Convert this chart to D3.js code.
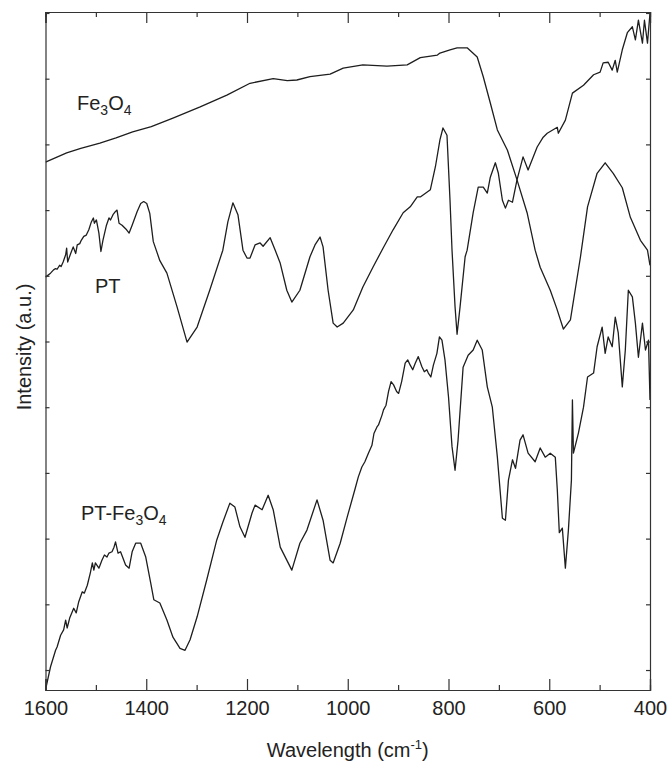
<!DOCTYPE html>
<html>
<head>
  <style>
    body, html { margin: 0; padding: 0; background: #fff; }
    svg text { font-family: "Liberation Sans", Arial, sans-serif; fill: #222; }
  </style>
</head>
<body>
  <svg id="svg" width="668" height="761"></svg>
  <script src="https://d3js.org/d3.v7.min.js"></script>
  <script>
    // wavenumbers (cm-1) and intensities (a.u.)
    const fe3o4Wn = [1600, 1558, 1530, 1492, 1460, 1427, 1390, 1347, 1293, 1240, 1194, 1148, 1120, 1101, 1075, 1035, 1009, 970, 922, 882, 856, 822, 817, 797, 783, 763, 743, 731, 717, 703, 683, 664, 644, 628, 618, 598, 585, 572, 558, 538, 524, 505, 489, 473, 455, 439, 419, 405, 400]
    const fe3o4Int = [77.3, 78.7, 79.4, 80.2, 81.0, 81.9, 82.7, 84.0, 85.7, 87.5, 89.3, 90.0, 89.7, 89.8, 90.3, 90.7, 91.6, 92.1, 91.9, 92.1, 93.2, 93.6, 93.9, 94.4, 94.7, 94.7, 93.3, 90.3, 86.3, 82.2, 79.1, 74.6, 69.6, 63.9, 61.3, 57.8, 55.0, 51.9, 53.3, 62.9, 70.5, 75.6, 77.2, 75.6, 73.4, 68.9, 65.4, 63.9, 61.6]

    const ptWn = [1600, 1590, 1584, 1580, 1577, 1572, 1569, 1565, 1560, 1558, 1556, 1550, 1545, 1540, 1537, 1532, 1529, 1524, 1519, 1514, 1509, 1505, 1503, 1499, 1494, 1490, 1486, 1479, 1474, 1471, 1466, 1461, 1458, 1454, 1448, 1439, 1434, 1428, 1418, 1411, 1405, 1399, 1393, 1386,
      1373, 1359, 1339, 1319, 1299, 1274, 1248, 1238, 1228, 1218, 1208, 1200, 1194, 1184, 1174, 1168, 1154, 1144, 1134, 1121, 1111, 1095, 1075, 1065, 1055, 1049, 1039, 1029, 1021, 1009, 989, 970, 950, 930, 910, 890, 876, 862, 856, 836, 826, 817, 811, 803, 797, 793, 787, 783, 777, 767, 763, 751, 741, 731, 723, 717, 707, 701, 693, 687, 681, 673, 664, 652, 642, 624, 612, 604, 584, 582, 568, 554, 532, 512, 499, 493, 483, 475, 469, 465, 455, 445, 435, 429, 423, 415, 411, 405, 400]
    const ptInt = [59.8, 60.4, 60.9, 61.1, 61.0, 61.6, 61.4, 62.1, 63.2, 64.2, 62.1, 63.4, 64.4, 63.4, 64.7, 64.9, 65.4, 66.0, 66.2, 67.0, 68.2, 68.8, 68.0, 68.5, 66.5, 63.7, 65.4, 67.7, 68.8, 68.5, 69.3, 69.8, 70.0, 68.0, 67.7, 67.0, 66.5, 67.7, 69.8, 71.0, 71.3, 71.0, 69.5, 65.2,
      62.3, 60.4, 55.3, 49.9, 52.2, 57.8, 63.9, 68.2, 71.1, 69.3, 63.9, 62.7, 62.7, 64.7, 65.0, 64.5, 65.8, 63.9, 61.9, 57.8, 56.0, 57.8, 62.9, 64.7, 65.9, 64.4, 57.8, 52.8, 52.2, 52.8, 54.8, 58.3, 61.3, 64.2, 67.0, 69.6, 70.5, 72.0, 72.0, 73.1, 76.6, 80.7, 82.5, 81.4, 71.5, 63.9, 55.3, 51.1, 55.3, 62.9, 63.9, 69.6, 73.5, 73.5, 72.6, 75.0, 77.2, 75.6, 71.5, 70.3, 71.5, 71.2, 74.6, 78.1, 76.1, 79.6, 81.1, 81.7, 82.6, 81.7, 83.7, 87.8, 89.0, 90.6, 91.0, 92.4, 92.5, 91.3, 92.8, 91.0, 94.4, 97.0, 97.9, 95.9, 98.9, 95.4, 98.9, 95.4, 100.0]

    const ptFeWn = [1600, 1590, 1580, 1577, 1570, 1564, 1560, 1557, 1552, 1544, 1539, 1534, 1527, 1523, 1517, 1511, 1507, 1504, 1501, 1494, 1488, 1483, 1478, 1474, 1468, 1464, 1461, 1456, 1451, 1441, 1434, 1428, 1421, 1411, 1401, 1391, 1385,
      1373, 1359, 1347, 1333, 1323, 1313, 1299, 1280, 1260, 1248, 1234, 1224, 1214, 1204, 1190, 1184, 1170, 1158, 1148, 1134, 1111, 1095, 1081, 1061, 1049, 1035, 1029, 1015, 1001,
      985, 979, 972, 966, 959, 952, 948, 942, 939, 932, 929, 924, 919, 914, 909, 903, 899, 893, 886, 881, 876, 871, 866, 860, 853, 848, 843, 840, 835, 830, 823, 818, 813, 807, 800, 793, 787,
      781, 771, 761, 751, 743, 733, 723, 713, 703, 693, 687, 681, 673, 667, 658, 652, 642, 628, 618, 608, 598, 588, 584, 580, 574, 568, 562, 556, 554, 552, 542, 532, 524, 512, 505, 495, 489, 483, 475, 469, 463, 455, 449, 443, 435, 429, 423, 415, 409, 403, 400]
    const ptFeInt = [-3.0, 0.5, 3.0, 3.5, 5.3, 6.1, 7.6, 6.4, 7.9, 9.4, 8.7, 10.4, 11.9, 11.7, 12.9, 14.8, 16.3, 15.2, 16.3, 15.5, 16.7, 17.5, 17.2, 17.8, 18.0, 18.7, 19.5, 17.8, 18.0, 16.0, 15.5, 18.0, 19.3, 19.3, 17.2, 13.2, 10.7,
      10.2, 7.6, 5.0, 3.3, 3.0, 4.6, 8.1, 13.7, 19.8, 22.5, 25.4, 24.8, 21.8, 20.2, 23.9, 25.1, 24.4, 26.6, 24.4, 18.7, 15.2, 19.3, 21.3, 25.9, 22.8, 16.7, 16.3, 19.3, 23.3,
      27.7, 29.4, 30.9, 31.7, 33.0, 34.2, 36.0, 37.0, 37.3, 38.8, 39.6, 40.3, 42.4, 43.9, 43.4, 42.4, 42.1, 43.9, 46.7, 47.2, 46.4, 45.7, 46.7, 47.7, 46.2, 45.4, 45.7, 45.2, 44.6, 46.4, 48.2, 50.7, 50.2, 47.2, 41.6, 34.0, 30.4,
      35.0, 46.1, 47.9, 48.7, 50.2, 48.7, 43.1, 40.0, 32.4, 23.1, 22.8, 28.9, 32.0, 30.7, 35.0, 35.8, 33.0, 31.7, 33.8, 32.4, 33.0, 32.4, 27.4, 20.9, 21.6, 15.5, 21.3, 28.9, 41.1, 33.0, 36.1, 40.0, 44.6, 45.2, 49.2, 52.2, 48.2, 50.7, 49.2, 53.7, 51.3, 43.1, 48.7, 57.8, 56.8, 52.8, 47.6, 52.8, 48.7, 50.2, 41.1]

    const xMajorTicks = [1600, 1400, 1200, 1000, 800, 600, 400]
    const xMinorTicks = [1500, 1300, 1100, 900, 700, 500]
    const yTicks = [0, 10, 20, 30, 40, 50, 60, 70, 80, 90, 100]

    const svg = d3.select("#svg")
    const mLeft = 45.5, mTop = 12, width = 604.5, height = 678

    const xScale = d3.scaleLinear().domain([1600, 400]).range([0, width])
    const yScale = d3.scaleLinear().domain([-3.04, 100.15]).range([height, 0])

    const g = svg.append("g").attr("transform", `translate(${mLeft},${mTop})`)

    g.append("clipPath").attr("id", "clip")
      .append("rect").attr("width", width).attr("height", height)

    const lineGen = d3.line()
      .x(d => xScale(d[0]))
      .y(d => yScale(d[1]))
      .curve(d3.curveLinear)

    const series = [
      d3.zip(fe3o4Wn, fe3o4Int),
      d3.zip(ptWn, ptInt),
      d3.zip(ptFeWn, ptFeInt)
    ]

    g.append("g").attr("clip-path", "url(#clip)")
      .selectAll("path")
      .data(series)
      .join("path")
      .attr("d", lineGen)
      .attr("fill", "none")
      .attr("stroke", "#1e1e1e")
      .attr("stroke-width", 1.3)
      .attr("stroke-linejoin", "round")

    // axes, ticks pointing inward on all four sides
    function noLabels(axis) { return axis.tickFormat("") }

    g.append("g").attr("transform", `translate(0,${height})`)
      .call(d3.axisBottom(xScale).tickValues(xMajorTicks).tickFormat(d3.format("d")).tickSize(-11).tickPadding(11))
    g.append("g").attr("transform", `translate(0,${height})`)
      .call(noLabels(d3.axisBottom(xScale).tickValues(xMinorTicks).tickSize(-5)))
    g.append("g")
      .call(noLabels(d3.axisTop(xScale).tickValues(xMajorTicks).tickSize(-11)))
    g.append("g")
      .call(noLabels(d3.axisTop(xScale).tickValues(xMinorTicks).tickSize(-5)))
    g.append("g")
      .call(noLabels(d3.axisLeft(yScale).tickValues(yTicks).tickSize(-4)))
    g.append("g").attr("transform", `translate(${width},0)`)
      .call(noLabels(d3.axisRight(yScale).tickValues(yTicks).tickSize(-4)))

    g.selectAll(".domain").attr("stroke", "#333").attr("stroke-width", 1.2)
    g.selectAll(".tick line").attr("stroke", "#333").attr("stroke-width", 1.2)
    g.selectAll(".tick text")
      .attr("font-size", 20)
      .attr("font-family", "Liberation Sans, Arial, sans-serif")
      .attr("fill", "#222")

    // axis titles
    const xt = svg.append("text")
      .attr("x", mLeft + width / 2)
      .attr("y", 757)
      .attr("text-anchor", "middle")
      .attr("font-size", 20)
    xt.append("tspan").text("Wavelength (cm")
    xt.append("tspan").attr("font-size", 13).attr("dy", -8).text("-1")
    xt.append("tspan").attr("dy", 8).text(")")

    svg.append("text")
      .attr("transform", `translate(31,${mTop + height / 2 - 4}) rotate(-90)`)
      .attr("text-anchor", "middle")
      .attr("font-size", 20)
      .text("Intensity (a.u.)")

    // curve labels
    function chemLabel(x, y, parts) {
      const t = svg.append("text").attr("x", x).attr("y", y).attr("font-size", 20)
      let shifted = false
      parts.forEach(p => {
        if (p.sub) {
          t.append("tspan").attr("font-size", 14).attr("dy", shifted ? 0 : 5).text(p.text)
          shifted = true
        } else {
          t.append("tspan").attr("dy", shifted ? -5 : 0).text(p.text)
          shifted = false
        }
      })
    }

    chemLabel(77, 110, [{ text: "Fe" }, { text: "3", sub: true }, { text: "O" }, { text: "4", sub: true }])
    chemLabel(95, 293, [{ text: "PT" }])
    chemLabel(81, 520, [{ text: "PT-Fe" }, { text: "3", sub: true }, { text: "O" }, { text: "4", sub: true }])
  </script>
</body>
</html>
